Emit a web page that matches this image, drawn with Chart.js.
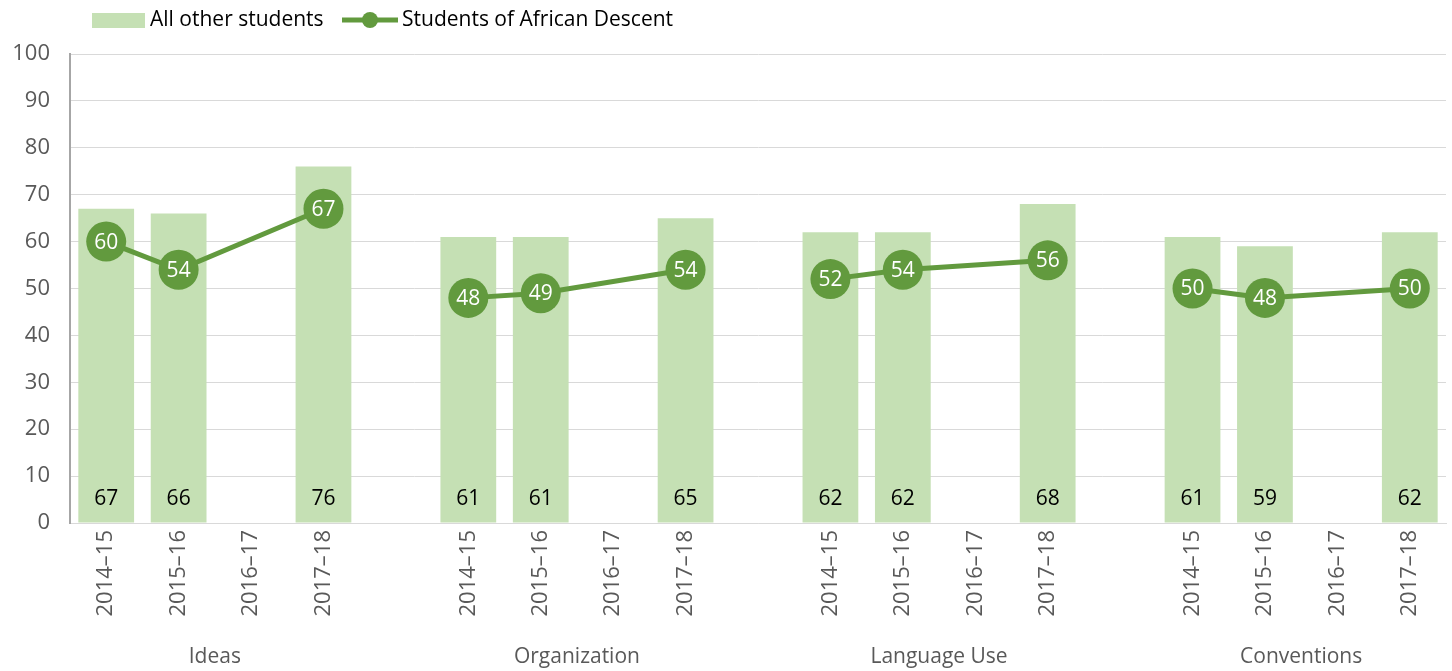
<!DOCTYPE html>
<html>
<head>
<meta charset="utf-8">
<script src="https://cdn.jsdelivr.net/npm/chart.js@4.4.1/dist/chart.umd.min.js"></script>
<style>
  html, body { margin: 0; padding: 0; background: #fff; overflow: hidden; }
  #wrap { width: 1452px; height: 671px; }
  canvas { display: block; }
</style>
</head>
<body>
<div id="wrap"><canvas id="chart"></canvas></div>
<script>
// data
var years = ['2014\u201315', '2015\u201316', '2016\u201317', '2017\u201318'];
var groups = ['Ideas', 'Organization', 'Language Use', 'Conventions'];
var otherIdeas = [67, 66, null, 76];
var otherOrg = [61, 61, null, 65];
var otherLang = [62, 62, null, 68];
var otherConv = [61, 59, null, 62];
var afrIdeas = [60, 54, null, 67];
var afrOrg = [48, 49, null, 54];
var afrLang = [52, 54, null, 56];
var afrConv = [50, 48, null, 50];
var yTicks = [0, 10, 20, 30, 40, 50, 60, 70, 80, 90, 100];

var barColor = '#c5e0b4';
var lineColor = '#629a3e';
var textGray = '#595959';
var fontFam = '"Open Sans", "Noto Sans", sans-serif';

// one blank slot between the groups
function pad(parts) {
    var out = [];
    parts.forEach(function (p, i) {
        out = out.concat(p);
        if (i < parts.length - 1) out.push(null);
    });
    return out;
}
var labels = pad([years, years, years, years]).map(function (l) { return l || ''; });
var otherData = pad([otherIdeas, otherOrg, otherLang, otherConv]);
var afrData = pad([afrIdeas, afrOrg, afrLang, afrConv]);

function groupOf(i) { return Math.floor(i / 5); }

var valueLabels = {
    id: 'valueLabels',
    afterDatasetsDraw: function (chart) {
        var ctx = chart.ctx;
        var y = chart.scales.y;
        ctx.save();
        ctx.textAlign = 'center';
        ctx.textBaseline = 'middle';
        // bars: value near the base
        ctx.font = '21px ' + fontFam;
        ctx.fillStyle = '#000';
        chart.getDatasetMeta(0).data.forEach(function (el, i) {
            if (otherData[i] == null) return;
            ctx.fillText(otherData[i], el.x, y.getPixelForValue(0) - 24);
        });
        // line: value inside the dot
        ctx.fillStyle = '#fff';
        ctx.font = '21px ' + fontFam;
        chart.getDatasetMeta(1).data.forEach(function (el, i) {
            if (afrData[i] == null) return;
            ctx.fillText(afrData[i], el.x, el.y + 1);
        });
        ctx.restore();
    }
};

var groupLabels = {
    id: 'groupLabels',
    afterDraw: function (chart) {
        var ctx = chart.ctx;
        var x = chart.scales.x;
        ctx.save();
        ctx.font = '21px ' + fontFam;
        ctx.fillStyle = textGray;
        ctx.textAlign = 'center';
        ctx.textBaseline = 'middle';
        groups.forEach(function (g, k) {
            var cx = (x.getPixelForValue(k * 5) + x.getPixelForValue(k * 5 + 3)) / 2;
            ctx.fillText(g, cx, 657);
        });
        ctx.restore();
    }
};

var topLegend = {
    id: 'topLegend',
    afterDraw: function (chart) {
        var ctx = chart.ctx;
        ctx.save();
        ctx.font = '21px ' + fontFam;
        ctx.textBaseline = 'middle';
        ctx.fillStyle = barColor;
        ctx.fillRect(92, 13, 53, 15);
        ctx.fillStyle = '#000';
        ctx.fillText(chart.data.datasets[0].label, 150, 20);
        ctx.strokeStyle = lineColor;
        ctx.lineWidth = 5;
        ctx.beginPath();
        ctx.moveTo(342, 20);
        ctx.lineTo(398, 20);
        ctx.stroke();
        ctx.fillStyle = lineColor;
        ctx.beginPath();
        ctx.arc(370, 20, 8, 0, Math.PI * 2);
        ctx.fill();
        ctx.fillStyle = '#000';
        ctx.fillText(chart.data.datasets[1].label, 402, 20);
        ctx.restore();
    }
};

new Chart(document.getElementById('chart'), {
    type: 'bar',
    data: {
        labels: labels,
        datasets: [{
            label: 'All other students',
            data: otherData,
            backgroundColor: barColor,
            categoryPercentage: 1,
            barPercentage: 0.77,
            order: 1
        }, {
            type: 'line',
            label: 'Students of African Descent',
            data: afrData,
            borderColor: lineColor,
            borderWidth: 5,
            pointRadius: 20,
            pointHoverRadius: 20,
            pointBackgroundColor: lineColor,
            pointBorderWidth: 0,
            spanGaps: true,
            segment: {
                borderColor: function (c) {
                    return groupOf(c.p0DataIndex) !== groupOf(c.p1DataIndex) ? 'transparent' : undefined;
                }
            },
            order: 0
        }]
    },
    options: {
        responsive: true,
        maintainAspectRatio: false,
        animation: false,
        layout: { autoPadding: false, padding: { top: 54, right: 6, left: 0, bottom: 0 } },
        plugins: {
            legend: { display: false },
            tooltip: { enabled: false }
        },
        scales: {
            x: {
                grid: { display: false, drawTicks: false },
                border: { color: '#d9d9d9', width: 1 },
                ticks: {
                    autoSkip: false,
                    minRotation: 90,
                    maxRotation: 90,
                    padding: 7,
                    color: textGray,
                    font: { family: fontFam, size: 22 }
                },
                afterFit: function (s) {
                    s.height = 148;
                    s.paddingLeft = 0;
                    s.paddingRight = 0;
                }
            },
            y: {
                min: 0,
                max: 100,
                afterBuildTicks: function (s) {
                    s.ticks = yTicks.map(function (v) { return { value: v }; });
                },
                grid: { color: '#d9d9d9', lineWidth: 1, drawTicks: false },
                border: { color: '#a6a6a6', width: 2 },
                ticks: {
                    padding: 20,
                    color: textGray,
                    font: { family: fontFam, size: 22 }
                },
                afterFit: function (s) { s.width = 70; }
            }
        }
    },
    plugins: [valueLabels, groupLabels, topLegend]
});
</script>
</body>
</html>
